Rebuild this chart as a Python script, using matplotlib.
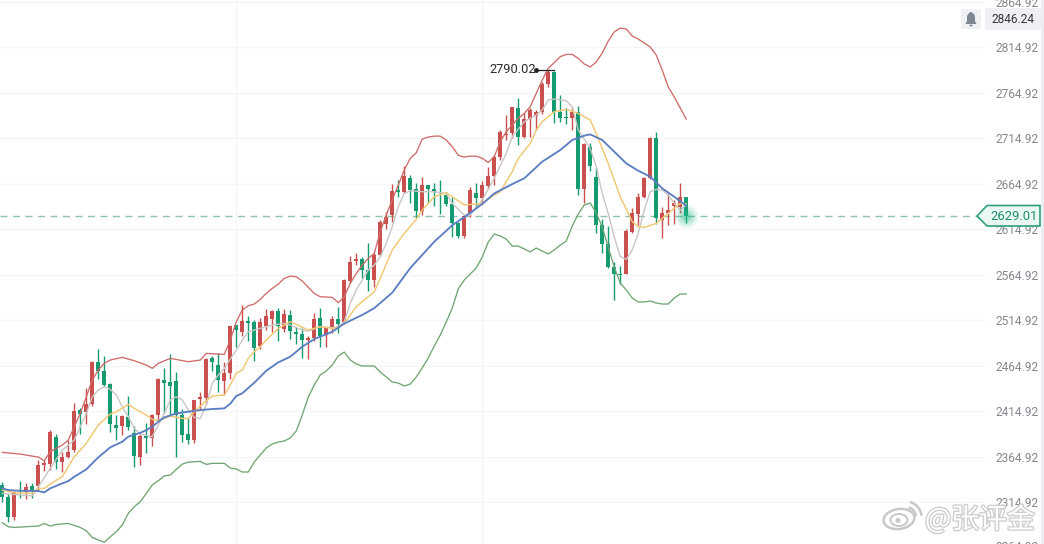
# gold daily candles with bollinger bands and moving averages
import numpy as np
import matplotlib
matplotlib.use('Agg')
import matplotlib.pyplot as plt
from matplotlib.patches import Ellipse, Polygon, Rectangle, FancyBboxPatch, Arc
import matplotlib.patheffects as pe

plt.rcParams['font.family'] = ['Roboto', 'DejaVu Sans']

#candles
opens = [2334,2320,2298,2328,2326,2333,2332,2356,2357,2386,2359,2364,2372,2416,2414,2423,2469,2459,2445,2400,
         2398,2408,2391,2364,2388,2385,2411,2449,2447,2448,2411,2390,2383,2428,2429,2473,2465,2448,2457,2509,
         2502,2514,2513,2486,2508,2516,2525,2505,2520,2502,2500,2493,2495,2517,2498,2506,2516,2512,2558,2580,
         2582,2570,2559,2586,2620,2630,2658,2656,2671,2659,2635,2663,2659,2655,2652,2642,2622,2607,2631,2655,
         2649,2662,2673,2694,2718,2720,2748,2716,2736,2739,2743,2774,2788,2743,2738,2737,2744,2659,2705,2672,
         2619,2598,2573,2565,2565,2612,2631,2650,2671,2715,2625,2632,2640,2639,2650]
highs = [2337,2324,2327,2338,2336,2336,2361,2361,2394,2390,2370,2383,2424,2418,2440,2470,2483,2475,2446,2411,
         2411,2431,2398,2390,2402,2412,2451,2462,2478,2458,2417,2407,2427,2436,2473,2475,2479,2469,2509,2509,
         2531,2519,2515,2517,2527,2526,2528,2527,2526,2507,2506,2497,2523,2528,2507,2519,2529,2560,2585,2589,
         2584,2600,2590,2625,2634,2664,2669,2684,2674,2665,2672,2663,2665,2669,2656,2650,2623,2630,2661,2666,
         2668,2683,2696,2724,2740,2749,2759,2742,2748,2746,2777,2790.02,2789,2762,2748,2749,2750,2709,2709,2683,
         2626,2618,2579,2574,2615,2638,2654,2672,2716,2721,2639,2654,2647,2666,2650]
lows = [2315,2293,2295,2319,2318,2319,2327,2349,2350,2351,2348,2363,2370,2390,2401,2420,2450,2442,2392,2383,
        2389,2394,2353,2356,2369,2376,2404,2413,2409,2364,2381,2379,2380,2417,2423,2459,2436,2433,2450,2485,
        2497,2492,2470,2483,2504,2502,2492,2502,2494,2489,2473,2472,2492,2485,2485,2501,2501,2511,2556,2575,
        2561,2547,2551,2585,2615,2623,2650,2654,2643,2627,2630,2643,2640,2631,2640,2606,2605,2605,2628,2638,
        2642,2659,2663,2691,2713,2715,2707,2715,2716,2724,2741,2771,2731,2733,2730,2724,2652,2643,2679,2610,
        2589,2572,2537,2555,2565,2611,2619,2649,2670,2620,2605,2619,2620,2633,2622]
closes = [2320,2298,2326,2327,2331,2328,2356,2358,2392,2359,2364,2370,2415,2412,2423,2469,2459,2444,2401,2396,
          2409,2397,2365,2388,2385,2411,2450,2446,2442,2411,2389,2383,2427,2430,2472,2469,2449,2457,2508,2504,
          2514,2512,2484,2513,2519,2525,2508,2522,2503,2500,2493,2495,2516,2497,2506,2516,2511,2559,2579,2582,
          2570,2559,2586,2623,2628,2657,2656,2673,2658,2635,2663,2659,2656,2654,2642,2622,2607,2629,2658,2649,
          2663,2673,2694,2722,2719,2749,2716,2736,2746,2743,2774,2788,2743,2737,2737,2744,2659,2708,2684,2619,
          2598,2573,2565,2564,2613,2632,2650,2671,2715,2627,2632,2636,2643,2650,2629.01]

#bollinger upper
upper_idx = [0,3,6,7,8,10,11,12,13,14,15,16,17,18,20,22,24,25,26,28,31,33,34,37,38,39,40,41,42,43,44,45,46,47,48,49,50,51,52,53,
             55,56,57,58,59,60,61,62,63,64,65,66,67,68,69,70,71,72,73,74,75,76,77,78,79,80,81,82,83,84,85,86,87,88,89,90,91,92,93,94,95,
             96,97,98,99,100,101,102,103,104,105,106,107,108,109,110,111,112,113,114]
upper = [2369.5,2367.6,2364.3,2360.3,2370.2,2377.5,2383,2397.7,2412.3,2430.6,2449,2460,2467.3,2471,2473.9,2470.2,2465.4,2461.8,2467.3,2472.8,
         2469.1,2470.9,2478.2,2477.2,2492.9,2513,2525.9,2530.6,2532.5,2537.6,2544.2,2549.7,2554.4,2560.7,2563.2,2562.5,2557.7,2550.8,2544.2,2540.5,
         2539.8,2533.9,2540.5,2555.2,2566.2,2575.3,2582.6,2588.1,2612,2630.3,2646.8,2663.2,2679.7,2692.5,2698.8,2713.8,2716,2717,2717,2712.7,2705.4,
         2696,2694,2695,2695,2692.6,2688,2694.4,2710.9,2721.9,2729.2,2736.5,2742,2749.3,2764,2778.6,2791.5,2797.7,2804.3,2806.8,2806.8,
         2802.4,2796.2,2793,2798.4,2808.3,2821.5,2831.4,2835.8,2834.7,2827,2823.7,2819.3,2814.9,2806.1,2789.6,2771,2760,2747.9,2735.8]

#bollinger lower
lower_idx = [0,1,2,4,6,7,8,9,11,13,14,15,17,18,19,20,21,22,23,24,25,26,27,28,29,30,31,33,34,35,37]
lower = [2292.2,2287.8,2287,2287.8,2288.5,2291.4,2288.5,2290.3,2291.4,2287,2283.4,2276,2270.6,2276.8,2282.3,2289.6,2302.4,2309.8,2315.3,2324.4,
         2333.6,2338.3,2343.5,2344.6,2350.8,2356.6,2358.8,2359.6,2356.3,2357.4,2357.4]
lower_idx = lower_idx + list(range(38, 115))
lower = lower + [2352.3,2351.2,2347.9,2347.9,2358.9,2366.6,2374.3,2378.7,2380.8,2382,2385.3,2393,2410.5,2430.3,2443.5,2454.5,2458.9,2465.5,2475.4,2479.7,
                 2471,2466.6,2464.4,2464.4,2464.4,2457.8,2452.3,2446.8,2445.7,2442.4,2444.6,2452.3,2462.2,2473.2,2486.4,2498.4,2512.7,2528.1,2549,2558.9,
                 2565.5,2572.1,2584.1,2600.6,2609.4,2607.2,2603.9,2596.2,2596.2,2593,2589.7,2594,2590.7,2587.5,2591.9,2597.3,2601.7,2618.2,2631.4,2641.3,
                 2643.5,2632.5,2617.1,2595.1,2573.2,2555.6,2547.9,2539.1,2534.7,2534.7,2535.8,2533.6,2532.5,2532.5,2539.1,2543.5,2543.5]

#middle band (blue)
mid_idx = [0,1,3,6,7,8,10,11,12,14,16,18,20,21,23,24,25,26,27,29,31,33,35,37,38,39,40,42,44,46,48,50,52,55,57,60,62,65,68,72,75,77,
           80,82,85,87,90,93,95,97,98,100,102,104,106,108,110,112,114]
mid = [2330,2328,2327.3,2327,2325.5,2330,2335.4,2338,2342.7,2350.8,2364,2375,2381.2,2386.7,2391,2394,2397.7,2403.2,2407.9,2412.3,2414.2,2416,2417.1,2417.8,
       2423,2431.4,2434.4,2446,2459.2,2468.4,2474.6,2485.6,2494,2502,2511,2520.5,2528,2545,2572,2601,2619,2628,
       2642.4,2654,2664.3,2670.6,2688.9,2701.7,2712.7,2717.5,2718.9,2712.7,2699.9,2687,2679,2672.4,2659.6,2650.4,2640.5]

#gold average
gold_idx = [0,2,5,6,7,8,10,12,14,16,18,19,21,22,24,25,26,28,30,31,32,34,35,37,38,39,40,41,42,43,44,46,48,49,51,53,55,56,57,59,61,62,63,65,67,69,70,72,74,75,
            77,80,82,83,85,86,88,89,90,92,94,96,98,99,101,103,105,106,107,109,111,113,114]
gold = [2328,2325.1,2324.4,2329.9,2329.9,2334.7,2342.7,2364.7,2379.4,2399.5,2411.6,2414.2,2422.2,2417.8,2410.5,2405.7,2404.3,2409.4,2406.8,2406.8,
        2414.2,2426.2,2431.4,2432.5,2443.5,2456.3,2459.9,2472.8,2480.1,2485.6,2492.9,2505.7,2513,2510.1,2503.9,2507.6,2505.7,2506.8,2511.2,2529.5,
        2540.5,2546,2560.7,2591.8,2610.1,2625.5,2635.8,2650.4,2654.8,2650.4,2641.3,2643.1,2652.3,2655.9,2677.9,2692.6,2709,2723.7,2732.9,2743.8,
        2746.4,2742,2734.7,2720,2687,2650.4,2623,2617.5,2616.7,2621.1,2632.1,2643.1,2642.4]

#grey average
grey_idx = [0,3,5,6,8,10,12,14,15,16,17,18,19,20,21,22,23,25,26,27,28,29,30,31,32,33,34,35,36,37,38,39,40,41,43,45,47,48,50,51,53,55,56,57,58,59,61,62,63,64,65,66,67,68,
            70,72,74,75,77,78,80,82,84,85,87,89,90,91,92,94,95,96,98,99,100,101,102,103,104,105,106,107,108,109,110,111,112,113,114]
grey = [2324.4,2322.6,2321.8,2331.7,2351.9,2372,2383,2412.3,2430.6,2438,2441.6,2438.7,2432.5,2419.7,2408.7,2395.8,2389.6,2386.7,2399.5,2412.3,
        2427,2430.6,2427,2416,2407.9,2406.8,2421.5,2445.3,2454.4,2461.8,2472,2481.9,2492.9,2502,2505.7,2509.4,2511.2,2509.4,2503.9,2502.8,
        2507.6,2506.5,2507.6,2513,2533.2,2547.9,2569.8,2575.3,2584.5,2599.1,2617.5,2639.4,2654,2657,2655.9,2655.9,2654,2643,2630.3,2630.3,
        2646.8,2670.6,2698,2716.4,2732.8,2740.2,2745.7,2756.7,2757.8,2755.9,2749.3,2723.7,2703.5,2683.4,2654.1,2632.1,2606.5,2584.5,2581.6,2591.8,
        2610.1,2635.8,2655.9,2658.5,2657.8,2652.3,2643.1,2635.8,2641]

price_ticks = [2864.92,2814.92,2764.92,2714.92,2664.92,2614.92,2564.92,2514.92,2464.92,2414.92,2364.92,2314.92]
time_ticks = [39,80]
last_price = 2629.01
alert_price = '2846.24'

RED = '#c9504f'
GREEN = '#159a72'
n = len(closes)
idx = np.arange(n)
o = np.array(opens)
c = np.array(closes)
colors = [RED if c[i] > o[i] else GREEN for i in idx]

fig = plt.figure(figsize=(10.44, 5.44), dpi=100, facecolor='white')
ax = fig.add_axes([0, 0, 985/1044, 1])
ax.set_xlim(-0.383, 163.8)
ax.set_ylim(2268.8, 2866.57)
for s in ax.spines.values():
    s.set_visible(False)

ax.set_yticks(price_ticks)
ax.set_yticklabels(['%.2f' % t for t in price_ticks])
ax.yaxis.tick_right()
ax.tick_params(axis='y', length=0, pad=7.5, labelsize=8.6, labelcolor='#85888f')
ax.set_xticks(time_ticks)
ax.tick_params(axis='x', length=0, labelbottom=False)
ax.grid(True, color='#f4f5f7', lw=1)
ax.set_axisbelow(True)
# cut off at the bottom of the window
ax.text(1 + 10/985, 2264.92, '2264.92', transform=ax.get_yaxis_transform(), ha='left', va='center',
        fontsize=8.6, color='#85888f', clip_on=False)

ax.axhline(last_price, color='#8fc0b0', lw=1, dashes=(5, 4), zorder=1)

#candles
ax.vlines(idx, lows, highs, colors=colors, lw=1.0, zorder=2)
ax.bar(idx, np.abs(c - o), bottom=np.minimum(o, c), width=0.68, color=colors, zorder=3)

#bands and averages
ax.plot(upper_idx, upper, color='#cf6b6a', lw=0.95, zorder=4)
ax.plot(lower_idx, lower, color='#70a672', lw=0.95, zorder=4)
ax.plot(grey_idx, grey, color='#c9c6c4', lw=1.0, zorder=4)
ax.plot(gold_idx, gold, color='#f1c873', lw=1.05, zorder=4)
ax.plot(mid_idx, mid, color='#5c7fc2', lw=1.35, zorder=5)

#highest price mark
ax.plot([89, 92], [2790.02, 2790.02], color='#222222', lw=0.9, zorder=6)
ax.plot([89], [2790.02], 'o', color='#222222', ms=2.5, zorder=6)
ax.text(88.9, 2790.02, '2790.02', ha='right', va='center', fontsize=9.2, color='#2b2b2b', zorder=6)

#glow on the last candle
for r, a in [(17, 0.10), (13, 0.15), (9, 0.2), (5, 0.3)]:
    ax.plot([114], [last_price], 'o', color='#27b98c', ms=r, alpha=a, mew=0, zorder=6)

#screen furniture drawn in pixels
ui = fig.add_axes([0, 0, 1, 1], facecolor='none')
ui.set_xlim(0, 1044)
ui.set_ylim(544, 0)
ui.axis('off')
ui.add_patch(Rectangle((1041, 0), 3, 544, color='#eceef2', lw=0))
ui.add_patch(FancyBboxPatch((961, 9), 20, 20, boxstyle='round,pad=0,rounding_size=2', fc='#eff1f5', ec='none'))
ui.add_patch(Polygon([(965.5, 24), (967, 21), (967, 16), (969, 13), (970.5, 12), (972, 12.5), (974, 14),
                      (975, 17), (975, 21), (976.5, 24)], fc='#7e8694', ec='none'))
ui.add_patch(Ellipse((971, 25.5), 3, 2, fc='#7e8694', ec='none'))
ui.add_patch(FancyBboxPatch((985, 8), 56, 22, boxstyle='round,pad=0,rounding_size=2', fc='#eef0f4', ec='none'))
ui.text(1013, 19.5, alert_price, ha='center', va='center', fontsize=8.6, color='#33363d')

ui.add_patch(Polygon([(977, 216), (987, 205.5), (1040, 205.5), (1040, 226), (987, 226)],
                     fc='#eaf8f3', ec='#2f9e7c', lw=1.2, zorder=8))
ui.text(1014, 216, '%.2f' % last_price, ha='center', va='center', fontsize=9.4, color='#1f8f6c', zorder=9)

#watermark
halo = [pe.withStroke(linewidth=2.0, foreground='#cfcfcf')]
ui.text(925, 520, '@张评金', ha='left', va='center', fontsize=20, color='white',
        family=['Noto Sans CJK SC', 'DejaVu Sans'], path_effects=halo, zorder=10)
ui.add_patch(Ellipse((899, 519), 31, 20, angle=-8, fc='white', ec='#c8c8c8', lw=1.8, zorder=10))
ui.add_patch(Ellipse((899, 520), 17, 12, fc='white', ec='#c8c8c8', lw=1.4, zorder=10))
ui.add_patch(Ellipse((898, 520.5), 5, 5, fc='#c8c8c8', ec='none', zorder=10))
ui.add_patch(Arc((906, 517), 20, 20, theta1=-75, theta2=-5, ec='#c8c8c8', lw=1.8, zorder=10))
ui.add_patch(Arc((906, 517), 31, 31, theta1=-75, theta2=-5, ec='#c8c8c8', lw=1.8, zorder=10))

plt.savefig('out.png', dpi=100)
